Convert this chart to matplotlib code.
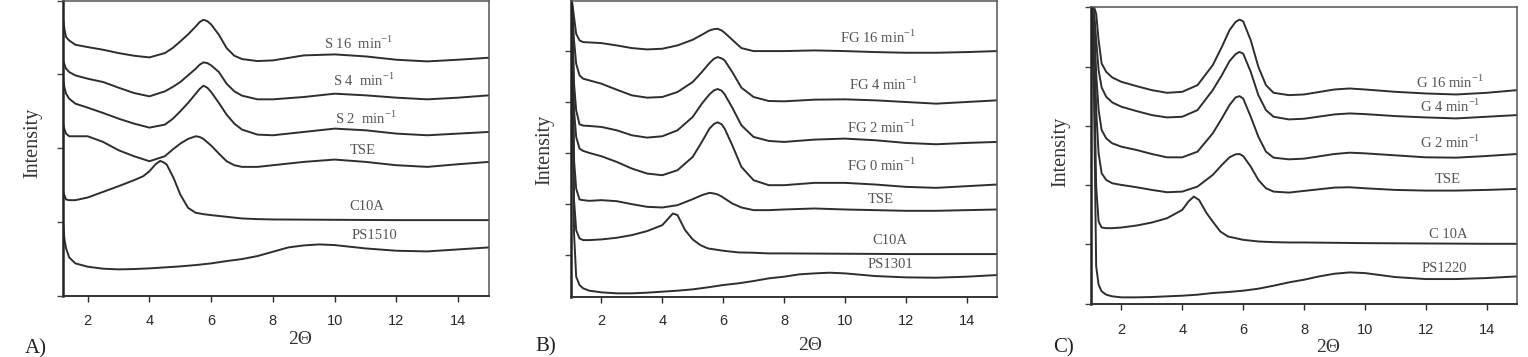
import matplotlib
matplotlib.use("Agg")
import matplotlib.pyplot as plt

plt.rcParams['font.family'] = ['Liberation Serif', 'DejaVu Serif']
plt.rcParams['mathtext.fontset'] = 'custom'
plt.rcParams['mathtext.rm'] = 'Liberation Serif'

# ---------------- Panel A ----------------
a_grid = [1.2, 1.25, 1.3, 1.4, 1.6, 2.0, 2.5, 3.0, 3.5, 4.0, 4.5, 4.75, 5.0, 5.25, 5.5,
          5.625, 5.75, 5.875, 6.0, 6.25, 6.5, 6.75, 7.0, 7.5, 8, 9, 10, 11, 12, 13, 14, 15]
a_s16 = [833, 800, 778, 768, 755, 748, 740, 730, 722, 717, 730, 745, 765, 786, 810,
         823, 830, 826, 816, 785, 745, 722, 712, 706, 708, 723, 726, 720, 710, 705, 710, 716]
a_s4 = [708, 695, 683, 673, 663, 653, 643, 626, 610, 600, 615, 628, 643, 663, 683,
        695, 702, 700, 693, 673, 638, 615, 602, 591, 591, 598, 608, 603, 596, 591, 596, 603]
a_s2 = [653, 625, 608, 593, 578, 566, 550, 533, 518, 506, 515, 532, 555, 580, 608,
        622, 632, 626, 613, 580, 545, 518, 500, 485, 483, 493, 503, 498, 488, 483, 488, 493]
a_tse = [518, 500, 488, 480, 480, 480, 463, 438, 420, 405, 420, 440, 458, 472, 480,
         478, 472, 462, 452, 428, 405, 393, 388, 388, 393, 403, 410, 403, 393, 388, 396, 403]
a_c10a_x = [1.2, 1.3, 1.4, 1.6, 2.0, 2.5, 3.0, 3.5, 3.8, 4.0, 4.2, 4.35, 4.45, 4.56,
            4.78, 5.0, 5.25, 5.5, 5.75, 6.0, 6.5, 7.0, 7.5, 8, 10, 12, 14, 15]
a_c10a = [313, 290, 288, 288, 296, 313, 330, 348, 360, 375, 396, 406, 402, 395,
          355, 305, 265, 250, 246, 243, 238, 233, 231, 230, 229, 228, 228, 228]
a_ps_x = [1.2, 1.25, 1.3, 1.4, 1.6, 2.0, 2.5, 3, 3.5, 4, 4.5, 5, 5.5, 6, 6.5, 7, 7.5,
          8, 8.5, 9, 9.5, 10, 11, 12, 13, 14, 15]
a_ps = [218, 168, 143, 116, 98, 88, 82, 80, 81, 83, 86, 89, 93, 98, 105, 111, 120,
        133, 146, 152, 155, 153, 143, 136, 134, 140, 146]
a_labels = ["S 16  min$^{\\mathregular{-1}}$", "S 4  min$^{\\mathregular{-1}}$",
            "S 2  min$^{\\mathregular{-1}}$", "TSE", "C10A", "PS1510"]
a_label_x = [10.78, 10.94, 11.0, 10.92, 11.05, 11.29]
a_label_y = [758, 648, 533, 436, 270, 182]

# ---------------- Panel B ----------------
b_grid = [1.03, 1.1, 1.17, 1.28, 1.4, 1.6, 2.0, 2.5, 3.0, 3.5, 4.0, 4.5, 5.0, 5.3, 5.55,
          5.7, 5.82, 5.95, 6.05, 6.3, 6.6, 7.0, 7.5, 8, 9, 10, 11, 12, 13, 14, 15]
b_fg16 = [891, 841, 791, 771, 766, 765, 763, 756, 748, 744, 746, 756, 773, 788, 801,
          805, 806, 801, 794, 773, 748, 739, 739, 739, 741, 739, 736, 734, 734, 736, 739]
b_fg4 = [891, 771, 701, 666, 656, 651, 641, 623, 606, 599, 601, 616, 646, 676, 703,
         716, 721, 717, 711, 676, 629, 601, 589, 588, 593, 594, 591, 586, 581, 586, 591]
b_fg2 = [891, 641, 561, 519, 515, 514, 511, 501, 486, 479, 483, 501, 541, 581, 609,
         621, 625, 620, 609, 569, 516, 481, 469, 466, 473, 476, 471, 463, 459, 463, 466]
b_fg0 = [891, 561, 481, 446, 439, 433, 423, 406, 386, 371, 366, 381, 421, 466, 506,
         520, 525, 519, 506, 456, 391, 351, 336, 336, 343, 343, 338, 331, 328, 333, 338]
b_tse = [891, 411, 326, 293, 291, 289, 291, 288, 279, 271, 269, 276, 294, 306, 313,
         311, 308, 302, 296, 281, 269, 261, 261, 263, 266, 263, 261, 259, 259, 261, 263]
b_c10a_x = [1.03, 1.1, 1.17, 1.28, 1.4, 1.6, 2.0, 2.5, 3.0, 3.5, 4.0, 4.2, 4.35, 4.5,
            4.75, 5.0, 5.25, 5.5, 6.0, 6.5, 7.0, 7.5, 8, 10, 12, 14, 15]
b_c10a = [891, 291, 201, 176, 171, 171, 173, 178, 186, 198, 216, 236, 251, 246,
          201, 173, 156, 146, 139, 134, 133, 131, 131, 130, 129, 129, 129]
b_ps_x = [1.03, 1.1, 1.17, 1.28, 1.4, 1.6, 2.0, 2.5, 3, 3.5, 4, 4.5, 5, 5.5, 6, 6.5, 7,
          7.5, 8, 8.5, 9, 9.5, 10, 11, 12, 13, 14, 15]
b_ps = [891, 191, 61, 36, 26, 19, 14, 11, 11, 13, 16, 19, 23, 29, 36, 41, 48,
        56, 61, 68, 71, 73, 71, 63, 59, 58, 61, 66]
b_labels = ["FG 16 min$^{\\mathregular{-1}}$", "FG 4 min$^{\\mathregular{-1}}$",
            "FG 2 min$^{\\mathregular{-1}}$", "FG 0 min$^{\\mathregular{-1}}$",
            "TSE", "C10A", "PS1301"]
b_label_x = [11.10, 11.26, 11.21, 11.21, 11.17, 11.48, 11.50]
b_label_y = [779, 638, 511, 396, 293, 171, 99]

# ---------------- Panel C ----------------
c_grid = [1.02, 1.1, 1.17, 1.25, 1.35, 1.5, 1.7, 2.0, 2.5, 3.0, 3.5, 4.0, 4.5, 5.0,
          5.3, 5.55, 5.75, 5.88, 6.0, 6.25, 6.5, 6.75, 7.0, 7.5, 8, 9, 9.5, 10, 11,
          12, 13, 14, 15]
c_g16 = [893, 893, 873, 793, 723, 698, 681, 668, 655, 643, 635, 638, 658, 718,
         773, 823, 848, 855, 850, 793, 713, 658, 635, 628, 630, 645, 648, 645, 638,
         633, 630, 635, 643]
c_g4 = [893, 883, 793, 703, 651, 623, 606, 593, 580, 568, 561, 563, 583, 643,
        688, 730, 751, 758, 753, 698, 628, 583, 563, 555, 557, 570, 573, 571, 565,
        561, 558, 563, 568]
c_g2 = [893, 853, 693, 583, 523, 498, 483, 473, 463, 451, 441, 441, 458, 513,
        558, 598, 621, 625, 618, 563, 503, 458, 440, 435, 437, 451, 455, 453, 447,
        441, 440, 445, 451]
c_tse = [893, 813, 583, 453, 393, 373, 363, 358, 351, 343, 336, 338, 353, 388,
         418, 441, 450, 451, 445, 413, 373, 348, 338, 335, 340, 350, 351, 348, 343,
         341, 341, 343, 346]
c_c10a_x = [1.02, 1.1, 1.17, 1.25, 1.35, 1.5, 1.7, 2.0, 2.5, 3.0, 3.5, 4.0, 4.2, 4.38,
            4.55, 4.8, 5.0, 5.25, 5.5, 6.0, 6.5, 7, 7.5, 8, 10, 12, 14, 15]
c_c10a = [893, 713, 353, 248, 230, 228, 228, 230, 236, 245, 258, 283, 308, 323,
          313, 273, 248, 218, 203, 193, 188, 186, 185, 185, 183, 182, 181, 181]
c_ps_x = [1.02, 1.1, 1.17, 1.25, 1.35, 1.5, 1.7, 2.0, 2.5, 3, 3.5, 4, 4.5, 5, 5.5, 6,
          6.5, 7, 7.5, 8, 8.5, 9, 9.5, 10, 11, 12, 13, 14, 15]
c_ps = [893, 613, 113, 58, 38, 28, 23, 20, 20, 21, 23, 25, 28, 33, 36, 40,
        46, 55, 65, 73, 83, 91, 95, 93, 81, 75, 75, 78, 83]
c_labels = ["G 16 min$^{\\mathregular{-1}}$", "G 4 min$^{\\mathregular{-1}}$",
            "G 2 min$^{\\mathregular{-1}}$", "TSE", "C 10A", "PS1220"]
c_label_x = [12.80, 12.82, 12.82, 12.71, 12.73, 12.60]
c_label_y = [665, 595, 485, 373, 208, 108]

x_ticks = [2, 4, 6, 8, 10, 12, 14]

W, H = 1528, 357
fig = plt.figure(figsize=(W / 100, H / 100), dpi=100)


def px_axes(l, t, r, b):
    return fig.add_axes([l / W, 1 - b / H, (r - l) / W, (b - t) / H])


LINE = '#2e2e2e'
TXT = '#555555'


def style(ax, xlim, ylim, yticks, pad):
    ax.set_xlim(*xlim)
    ax.set_ylim(*ylim)
    ax.set_xticks(x_ticks)
    ax.set_yticks(yticks)
    ax.set_yticklabels([])
    ax.tick_params(axis='x', direction='out', length=4, width=1, pad=pad,
                   labelsize=10.5, colors='#2a2a2a')
    ax.tick_params(axis='y', direction='out', length=4, width=1, colors='#444444')
    for lab in ax.get_xticklabels():
        lab.set_family('Liberation Sans')
    for s in ax.spines.values():
        s.set_color('#555555')
        s.set_linewidth(1.1)
    ax.spines['left'].set_color('#222222')
    ax.spines['left'].set_linewidth(1.8)
    ax.spines['bottom'].set_color('#333333')
    ax.spines['bottom'].set_linewidth(1.4)


def panel(ax, curves, labels, lx, ly):
    for xs, ys in curves:
        ax.plot(xs, ys, color=LINE, lw=1.4, solid_joinstyle='round')
    for t, x, y in zip(labels, lx, ly):
        ax.text(x, y, t, fontsize=10.5, color=TXT, ha='center', va='center')


axA = px_axes(63, 0.5, 489, 296)
panel(axA, [(a_grid, a_s16), (a_grid, a_s4), (a_grid, a_s2), (a_grid, a_tse),
            (a_c10a_x, a_c10a), (a_ps_x, a_ps)], a_labels, a_label_x, a_label_y)
style(axA, (1.2, 15), (0, 888), [0, 222, 444, 666, 888], 9)

axB = px_axes(571, 0.5, 997, 297)
panel(axB, [(b_grid, b_fg16), (b_grid, b_fg4), (b_grid, b_fg2), (b_grid, b_fg0),
            (b_grid, b_tse), (b_c10a_x, b_c10a), (b_ps_x, b_ps)],
      b_labels, b_label_x, b_label_y)
style(axB, (1.0, 15), (0, 891), [125, 278, 432, 585, 738], 8)

axC = px_axes(1091, 7, 1517, 304)
panel(axC, [(c_grid, c_g16), (c_grid, c_g4), (c_grid, c_g2), (c_grid, c_tse),
            (c_c10a_x, c_c10a), (c_ps_x, c_ps)], c_labels, c_label_x, c_label_y)
style(axC, (1.0, 15), (0, 893), [0, 179, 357, 536, 714, 893], 10)


def ftext(px, py, s, **kw):
    fig.text(px / W, 1 - py / H, s, **kw)


for cx, cy in [(33, 143), (545, 150), (1061, 152)]:
    ftext(cx, cy, "Intensity", rotation=90, ha='center', va='center',
          fontsize=14.5, color='#333333')
for cx, cy in [(300, 340), (810, 345), (1328, 348)]:
    ftext(cx, cy, "2Θ", ha='center', va='center', fontsize=14, color='#333333')
for lx, cy, s in [(25, 349, "A)"), (535, 347, "B)"), (1053, 348, "C)")]:
    ftext(lx, cy, s, ha='left', va='center', fontsize=15, color='#222222')

fig.savefig("out.png", dpi=100, facecolor='white')
